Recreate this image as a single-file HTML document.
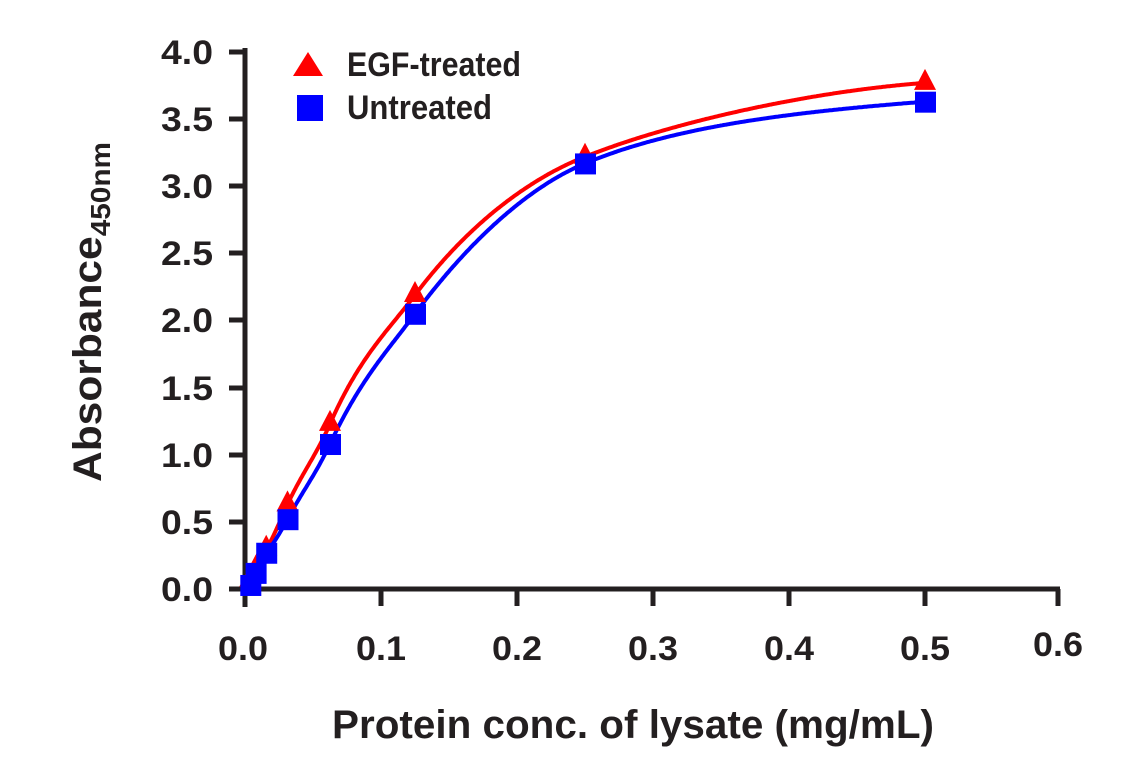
<!DOCTYPE html>
<html><head><meta charset="utf-8"><style>
html,body{margin:0;padding:0;background:#fff;}
svg{display:block;}
text{font-family:"Liberation Sans Narrow","Liberation Sans",sans-serif;font-weight:bold;fill:#231f20;}
</style></head><body>
<svg id="s" width="1141" height="768" viewBox="0 0 1141 768" xmlns="http://www.w3.org/2000/svg">
<g stroke="#231f20" stroke-width="5" fill="none">
<line x1="245" y1="48" x2="245" y2="607"/>
<line x1="243" y1="589" x2="1060" y2="589"/>
<line x1="229" y1="52" x2="245" y2="52"/>
<line x1="229" y1="119" x2="245" y2="119"/>
<line x1="229" y1="186" x2="245" y2="186"/>
<line x1="229" y1="253" x2="245" y2="253"/>
<line x1="229" y1="320" x2="245" y2="320"/>
<line x1="229" y1="388" x2="245" y2="388"/>
<line x1="229" y1="455" x2="245" y2="455"/>
<line x1="229" y1="522" x2="245" y2="522"/>
<line x1="229" y1="589" x2="245" y2="589"/>
<line x1="381" y1="589" x2="381" y2="606"/>
<line x1="517" y1="589" x2="517" y2="606"/>
<line x1="653" y1="589" x2="653" y2="606"/>
<line x1="789" y1="589" x2="789" y2="606"/>
<line x1="925" y1="589" x2="925" y2="606"/>
<line x1="1058" y1="589" x2="1058" y2="606"/>
</g>
<g font-size="34" text-anchor="end">
<text x="213" y="64" textLength="52" lengthAdjust="spacingAndGlyphs">4.0</text>
<text x="213" y="131" textLength="52" lengthAdjust="spacingAndGlyphs">3.5</text>
<text x="213" y="198" textLength="52" lengthAdjust="spacingAndGlyphs">3.0</text>
<text x="213" y="265" textLength="52" lengthAdjust="spacingAndGlyphs">2.5</text>
<text x="213" y="332" textLength="52" lengthAdjust="spacingAndGlyphs">2.0</text>
<text x="213" y="400" textLength="52" lengthAdjust="spacingAndGlyphs">1.5</text>
<text x="213" y="467" textLength="52" lengthAdjust="spacingAndGlyphs">1.0</text>
<text x="213" y="534" textLength="52" lengthAdjust="spacingAndGlyphs">0.5</text>
<text x="213" y="601" textLength="52" lengthAdjust="spacingAndGlyphs">0.0</text>
</g>
<g font-size="34" text-anchor="middle">
<text x="243" y="660" textLength="50" lengthAdjust="spacingAndGlyphs">0.0</text>
<text x="381" y="660" textLength="50" lengthAdjust="spacingAndGlyphs">0.1</text>
<text x="517" y="660" textLength="50" lengthAdjust="spacingAndGlyphs">0.2</text>
<text x="653" y="660" textLength="50" lengthAdjust="spacingAndGlyphs">0.3</text>
<text x="789" y="660" textLength="50" lengthAdjust="spacingAndGlyphs">0.4</text>
<text x="925" y="660" textLength="50" lengthAdjust="spacingAndGlyphs">0.5</text>
<text x="1058" y="656" textLength="50" lengthAdjust="spacingAndGlyphs">0.6</text>
</g>
<text x="332" y="738" font-size="40" textLength="602" lengthAdjust="spacingAndGlyphs">Protein conc. of lysate (mg/mL)</text>
<text transform="translate(101,482) rotate(-90)" font-size="40" textLength="340" lengthAdjust="spacingAndGlyphs">Absorbance<tspan font-size="28" dy="9">450nm</tspan></text>
<polygon points="308,52 323,76 293,76" fill="#ff0000"/>
<rect x="297" y="95" width="26" height="26" fill="#0000ff"/>
<text x="347" y="76" font-size="34" textLength="174" lengthAdjust="spacingAndGlyphs">EGF-treated</text>
<text x="347" y="119" font-size="34" textLength="145" lengthAdjust="spacingAndGlyphs">Untreated</text>
<g id="g"></g>
</svg>
<script>
var X=function(c){return 245+1360*c},Y=function(v){return 589-134.25*v};
var cs=[0.0039,0.0078,0.0156,0.03125,0.0625,0.125,0.25,0.5];
var e=[0.07,0.15,0.3,0.63,1.23,2.19,3.22,3.77];
var u=[0.03,0.12,0.27,0.52,1.08,2.05,3.17,3.63];
function hill(A,K,n){return function(c){var t=Math.pow(c/K,n);return A*t/(1+t);};}
function corrected(f,v){var r=cs.map(function(c,i){return v[i]-f(c);});
 return function(c){var k=0;while(k<cs.length-2&&c>cs[k+1])k++;var t=(c-cs[k])/(cs[k+1]-cs[k]);t=Math.max(0,Math.min(1,t));
 var s=t*t*(3-2*t);return f(c)+r[k]*(1-s)+r[k+1]*s;};}
var fe=corrected(hill(3.95,0.103,1.75),e), fu=corrected(hill(3.85,0.11,1.8),u);
function path(f){var d="";for(var c=0.0039;c<=0.5001;c+=0.001){d+=(d?" L":"M")+X(c).toFixed(1)+","+Y(f(c)).toFixed(1);}return d;}
var g=document.getElementById('g'),h='';
h+='<path d="'+path(fe)+'" stroke="#ff0000" stroke-width="4" fill="none"/>';
h+='<path d="'+path(fu)+'" stroke="#0000ff" stroke-width="4" fill="none"/>';
cs.forEach(function(c,i){var x=X(c),y=Y(e[i]);h+='<polygon points="'+x+','+(y-14)+' '+(x+11)+','+(y+7)+' '+(x-11)+','+(y+7)+'" fill="#ff0000"/>';});
cs.forEach(function(c,i){var x=X(c),y=Y(u[i]);h+='<rect x="'+(x-10)+'" y="'+(y-10)+'" width="21" height="21" fill="#0000ff"/>';});
g.innerHTML=h;
</script>
</body></html>
